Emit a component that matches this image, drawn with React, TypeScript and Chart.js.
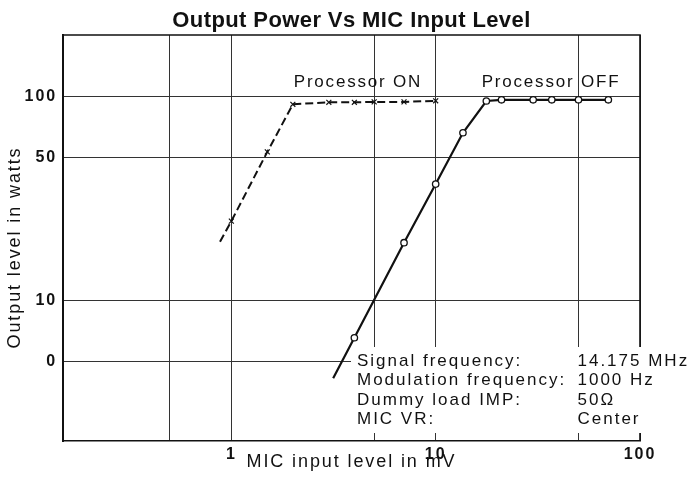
import React, { useEffect, useRef } from 'react';
import { Chart, registerables } from 'chart.js';

Chart.register(...registerables);

// ---- data ----
const onX = [0.88, 1.0, 1.5, 2.0, 3.0, 4.0, 5.0, 7.0, 10];
const onY = [19.4, 24.5, 53.5, 91.5, 93.6, 93.6, 94, 94, 95.2];

const offX = [3.15, 4.0, 7.0, 10, 13.6, 17.7, 21, 30, 37, 50, 70];
const offY = [4.16, 6.57, 19.2, 37.2, 66.4, 95, 96.3, 96.3, 96.3, 96.3, 96.3];

const xTickValues = [0.5, 1, 5, 10, 50, 100];
const xTickLabels: Record<string, string> = { '1': '1', '10': '10', '100': '100' };
const yTickValues = [5, 10, 50, 100];
const yTickLabels: Record<string, string> = { '5': '0', '10': '10', '50': '50', '100': '100' };

const titleText = 'Output Power Vs MIC Input Level';
const xTitle = 'MIC input level in mV';
const yTitle = 'Output level in watts';
const onLabel = 'Processor ON';
const offLabel = 'Processor OFF';
const infoLabels = ['Signal frequency:', 'Modulation frequency:', 'Dummy load IMP:', 'MIC VR:'];
const infoValues = ['14.175 MHz', '1000 Hz', '50\u03A9', 'Center'];

const FONT = '"Liberation Sans", Arial, Helvetica, sans-serif';
const INK = '#111';

const overlayPlugin = {
  id: 'overlay',
  beforeDraw(chart: any) {
    const ctx = chart.ctx as any;
    ctx.letterSpacing = '1.9px';
  },
  beforeDatasetsDraw(chart: any) {
    const ctx = chart.ctx as any;
    const a = chart.chartArea;
    const xs = chart.scales.x;
    ctx.save();
    // top and right frame
    ctx.strokeStyle = INK;
    ctx.lineWidth = 1.6;
    ctx.beginPath();
    ctx.moveTo(a.left, a.top);
    ctx.lineTo(a.right, a.top);
    ctx.lineTo(a.right, a.bottom);
    ctx.stroke();
    // white panel behind the test conditions
    const firstBase = a.bottom - 75;
    const lh = 19.3;
    ctx.fillStyle = '#fff';
    ctx.fillRect(351, firstBase - 19, a.right + 4 - 351, a.bottom - 8 - (firstBase - 19));
    ctx.fillStyle = INK;
    ctx.font = `17px ${FONT}`;
    ctx.letterSpacing = '2px';
    ctx.textAlign = 'left';
    ctx.textBaseline = 'alphabetic';
    const lx = xs.getPixelForValue(4.12);
    const rx = xs.getPixelForValue(50) - 1;
    infoLabels.forEach((t, i) => {
      ctx.fillText(t, lx, firstBase + i * lh);
      ctx.fillText(infoValues[i], rx, firstBase + i * lh);
    });
    ctx.restore();
  },
  afterDraw(chart: any) {
    const ctx = chart.ctx as any;
    const a = chart.chartArea;
    const xs = chart.scales.x;
    const ys = chart.scales.y;
    ctx.save();
    ctx.fillStyle = INK;
    // title
    ctx.font = `bold 22px ${FONT}`;
    ctx.letterSpacing = '0.4px';
    ctx.textAlign = 'center';
    ctx.textBaseline = 'alphabetic';
    ctx.fillText(titleText, (a.left + a.right) / 2, 27);
    // series labels
    ctx.font = `17px ${FONT}`;
    ctx.letterSpacing = '1.8px';
    ctx.textAlign = 'left';
    ctx.fillText(onLabel, xs.getPixelForValue(2.02), ys.getPixelForValue(111));
    ctx.fillText(offLabel, xs.getPixelForValue(16.8), ys.getPixelForValue(111));
    // y title
    ctx.font = `18px ${FONT}`;
    ctx.letterSpacing = '1.9px';
    ctx.translate(15.5, (a.top + a.bottom) / 2 + 9.5);
    ctx.rotate(-Math.PI / 2);
    ctx.textAlign = 'center';
    ctx.textBaseline = 'middle';
    ctx.fillText(yTitle, 0, 0);
    ctx.restore();
  },
};

export default function App() {
  const ref = useRef<HTMLCanvasElement | null>(null);

  useEffect(() => {
    if (!ref.current) return;
    const chart = new Chart(ref.current, {
      type: 'line',
      data: {
        datasets: [
          {
            label: onLabel,
            data: onX.map((x, i) => ({ x, y: onY[i] })),
            borderColor: INK,
            borderWidth: 2,
            borderDash: [8, 4],
            pointStyle: 'crossRot',
            pointRadius: (c: any) => (c.dataIndex === 0 ? 0 : 3.5),
            pointBorderWidth: 1.2,
            pointBorderColor: INK,
            pointBackgroundColor: '#fff',
            tension: 0,
            fill: false,
          },
          {
            label: offLabel,
            data: offX.map((x, i) => ({ x, y: offY[i] })),
            borderColor: INK,
            borderWidth: 2.2,
            pointStyle: 'circle',
            pointRadius: (c: any) => (c.dataIndex === 0 ? 0 : 3.2),
            pointBorderWidth: 1.3,
            pointBorderColor: INK,
            pointBackgroundColor: '#fff',
            tension: 0,
            fill: false,
          },
        ],
      },
      options: {
        animation: false,
        responsive: false,
        devicePixelRatio: 1,
        layout: { padding: { top: 35, right: 57, left: 0, bottom: 0 } },
        plugins: {
          legend: { display: false },
          title: { display: false },
          tooltip: { enabled: false },
        },
        scales: {
          x: {
            type: 'logarithmic',
            min: 0.15,
            max: 100,
            afterBuildTicks: (s: any) => {
              s.ticks = xTickValues.map((v) => ({ value: v }));
            },
            afterFit: (s: any) => {
              s.height = 38;
            },
            ticks: {
              autoSkip: false,
              maxRotation: 0,
              padding: 4,
              color: INK,
              font: { family: FONT, size: 16, weight: 'bold' },
              callback: (v: any) => xTickLabels[String(v)] ?? '',
            },
            grid: { color: '#333', lineWidth: 1, drawTicks: false },
            border: { display: true, color: INK, width: 1.6 },
            title: {
              display: true,
              text: xTitle,
              color: INK,
              font: { family: FONT, size: 18 },
              padding: { top: 0, bottom: 6.5 },
            },
          },
          y: {
            type: 'logarithmic',
            min: 2.05,
            max: 200,
            afterBuildTicks: (s: any) => {
              s.ticks = yTickValues.map((v) => ({ value: v }));
            },
            afterFit: (s: any) => {
              s.width = 63;
            },
            ticks: {
              autoSkip: false,
              padding: 6,
              color: INK,
              font: { family: FONT, size: 16, weight: 'bold' },
              callback: (v: any) => yTickLabels[String(v)] ?? '',
            },
            grid: { color: '#333', lineWidth: 1, drawTicks: false },
            border: { display: true, color: INK, width: 2 },
          },
        },
      },
      plugins: [overlayPlugin],
    } as any);
    return () => chart.destroy();
  }, []);

  return (
    <div style={{ position: 'absolute', left: 0, top: 0, width: 697, height: 479, background: '#fff' }}>
      <canvas ref={ref} width={697} height={479} style={{ width: 697, height: 479, display: 'block' }} />
    </div>
  );
}
